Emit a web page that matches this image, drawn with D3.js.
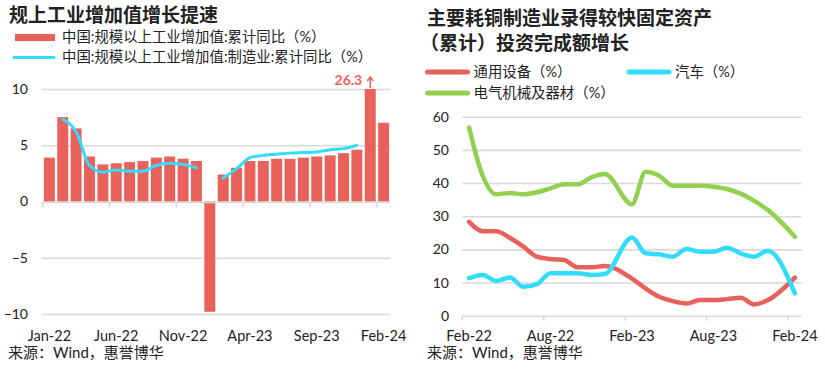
<!DOCTYPE html>
<html>
<head>
<meta charset="utf-8">
<script src="https://cdn.jsdelivr.net/npm/d3@7/dist/d3.min.js"></script>
<style>
  body { margin: 0; background: #fff; }
  svg text { font-family: Lato, "Noto Sans CJK SC", sans-serif; fill: #222; }
</style>
</head>
<body>
<div id="chart"></div>
<script>
// ---- left panel: industrial value added (cumulative YoY, %) ----
const leftMonths = ['Jan-22','Feb-22','Mar-22','Apr-22','May-22','Jun-22','Jul-22','Aug-22','Sep-22','Oct-22','Nov-22','Dec-22',
                    'Jan-23','Feb-23','Mar-23','Apr-23','May-23','Jun-23','Jul-23','Aug-23','Sep-23','Oct-23','Nov-23','Dec-23',
                    'Jan-24','Feb-24'];
const ipTotal = [3.9, 7.5, 6.5, 4.0, 3.3, 3.4, 3.5, 3.6, 3.9, 4.0, 3.8, 3.6,
                 -9.8, 2.4, 3.0, 3.6, 3.6, 3.8, 3.8, 3.9, 4.0, 4.1, 4.3, 4.6,
                 26.3, 7.0];
const ipMfg = [null, 7.3, 6.2, 3.2, 2.6, 2.8, 2.7, 2.7, 3.2, 3.4, 3.3, 3.0,
               null, 2.1, 2.9, 3.9, 4.1, 4.2, 4.3, 4.35, 4.4, 4.6, 4.7, 5.0,
               null, null];
const leftTickLabels = ['Jan-22','Jun-22','Nov-22','Apr-23','Sep-23','Feb-24'];
const leftYTicks = [-10, -5, 0, 5, 10];
const leftLegend = ['中国:规模以上工业增加值:累计同比（%）', '中国:规模以上工业增加值:制造业:累计同比（%）'];

// ---- right panel: fixed asset investment (cumulative YoY, %) ----
const rightMonths = ['Feb-22','Mar-22','Apr-22','May-22','Jun-22','Jul-22','Aug-22','Sep-22','Oct-22','Nov-22','Dec-22',
                     'Jan-23','Feb-23','Mar-23','Apr-23','May-23','Jun-23','Jul-23','Aug-23','Sep-23','Oct-23','Nov-23','Dec-23',
                     'Jan-24','Feb-24'];
const generalEquip = [28.3, 25.5, 25.5, 23.5, 20.8, 17.8, 17.1, 16.8, 14.6, 14.6, 15.0,
                      null, 11.2, 8.2, 5.7, 4.4, 3.7, 4.7, 4.7, 5.0, 5.4, 3.4, 4.7,
                      null, 11.5];
const autos = [11.3, 12.3, 10.5, 11.5, 8.7, 9.5, 12.8, 12.8, 12.8, 12.3, 12.6,
               null, 23.6, 18.8, 18.5, 17.8, 20.1, 19.3, 19.3, 20.5, 18.8, 17.8, 19.6,
               null, 6.7];
const electrical = [56.7, 42.2, 36.6, 37.0, 36.6, 37.2, 38.4, 39.6, 39.6, 41.7, 42.7,
                    null, 33.6, 43.4, 42.2, 39.2, 39.2, 39.2, 38.9, 38.2, 36.8, 34.6, 31.9,
                    null, 23.8];
const rightTickLabels = ['Feb-22','Aug-22','Feb-23','Aug-23','Feb-24'];
const rightYTicks = [0, 10, 20, 30, 40, 50, 60];
const rightSeries = [
  { name: '通用设备（%）', values: generalEquip, color: '#E9615B' },
  { name: '汽车（%）', values: autos, color: '#33DBFF' },
  { name: '电气机械及器材（%）', values: electrical, color: '#92D050' }
];

const RED = '#E9615B', CYAN = '#33DBFF', GRID = '#D9D9D9';

const svg = d3.select('#chart').append('svg')
  .attr('width', 825).attr('height', 375);

// ================= LEFT PANEL =================
(function drawLeft() {
  const x = d3.scaleBand().domain(leftMonths).range([42.7, 390.3])
    .paddingInner(0.18).paddingOuter(0.09);
  const y = d3.scaleLinear().domain([-10, 10]).range([314, 89]);
  const slotStart = d => x(d) - x.step() * x.paddingInner() / 2;

  svg.append('text').attr('x', 9).attr('y', 22)
    .attr('font-size', 19).attr('font-weight', 700)
    .text('规上工业增加值增长提速');

  // legend
  svg.append('rect').attr('x', 15).attr('y', 34).attr('width', 40).attr('height', 7).attr('fill', RED);
  svg.append('line').attr('x1', 14).attr('x2', 54).attr('y1', 57.5).attr('y2', 57.5)
    .attr('stroke', CYAN).attr('stroke-width', 3).attr('stroke-linecap', 'round');
  leftLegend.forEach((t, i) => {
    svg.append('text').attr('x', 62).attr('y', 38 + i * 20)
      .attr('dominant-baseline', 'middle').attr('font-size', 14.4).text(t);
  });

  // gridlines
  const grid = svg.append('g')
    .attr('transform', 'translate(41.7,0)')
    .call(d3.axisLeft(y).tickValues(leftYTicks.filter(v => v !== 0)).tickSize(-348.6).tickFormat(''));
  grid.select('.domain').remove();
  grid.selectAll('line').attr('stroke', GRID).attr('stroke-width', 1.6);

  // y labels
  const yAx = svg.append('g').attr('transform', 'translate(28,0)')
    .call(d3.axisLeft(y).tickValues(leftYTicks).tickSize(0).tickPadding(0));
  yAx.select('.domain').remove();
  yAx.selectAll('text').attr('font-size', 14).style('font-family', 'Lato, sans-serif');

  // bars (clip the outlier at the top of the axis)
  svg.append('g').selectAll('rect')
    .data(leftMonths.map((m, i) => ({ m, v: ipTotal[i] })))
    .join('rect')
    .attr('x', d => x(d.m))
    .attr('width', x.bandwidth())
    .attr('y', d => y(Math.min(Math.max(d.v, 0), 10)))
    .attr('height', d => Math.abs(y(Math.min(d.v, 10)) - y(0)))
    .attr('fill', RED);

  // zero axis line with ticks at slot starts
  const axisY = y(0) + 1;
  svg.append('line').attr('x1', 41.7).attr('x2', 390.3).attr('y1', axisY).attr('y2', axisY)
    .attr('stroke', GRID).attr('stroke-width', 1.6);
  svg.append('g').selectAll('line').data(leftTickLabels).join('line')
    .attr('x1', d => slotStart(d)).attr('x2', d => slotStart(d))
    .attr('y1', axisY).attr('y2', axisY + 5)
    .attr('stroke', GRID).attr('stroke-width', 1.6);

  // x labels
  svg.append('g').selectAll('text').data(leftTickLabels).join('text')
    .attr('x', d => x(d) + x.bandwidth() / 2).attr('y', 340.5)
    .attr('text-anchor', 'middle').attr('font-size', 14.5).text(d => d);

  // manufacturing line
  const line = d3.line()
    .defined(d => d.v != null)
    .x(d => x(d.m) + x.bandwidth() / 2)
    .y(d => y(d.v))
    .curve(d3.curveMonotoneX);
  svg.append('path')
    .datum(leftMonths.map((m, i) => ({ m, v: ipMfg[i] })))
    .attr('d', line).attr('fill', 'none')
    .attr('stroke', CYAN).attr('stroke-width', 3)
    .attr('stroke-linejoin', 'round').attr('stroke-linecap', 'round');

  // outlier annotation
  const outIdx = ipTotal.findIndex(v => v > 10);
  const ox = x(leftMonths[outIdx]) + x.bandwidth() / 2;
  svg.append('line').attr('x1', ox).attr('x2', ox).attr('y1', y(10) - 1).attr('y2', y(10) - 11)
    .attr('stroke', RED).attr('stroke-width', 1.5);
  svg.append('path')
    .attr('d', `M${ox - 3},${y(10) - 8} L${ox},${y(10) - 12} L${ox + 3},${y(10) - 8}`)
    .attr('fill', 'none').attr('stroke', RED).attr('stroke-width', 1.5);
  svg.append('text').attr('x', ox - 8).attr('y', 85)
    .attr('text-anchor', 'end').attr('font-size', 14).attr('font-weight', 700)
    .style('fill', RED).text(ipTotal[outIdx]);

  svg.append('text').attr('x', 8).attr('y', 358).attr('font-size', 15).text('来源：Wind，惠誉博华');
})();

// ================= RIGHT PANEL =================
(function drawRight() {
  const x = d3.scaleBand().domain(rightMonths).range([462.3, 801.7]);
  const y = d3.scaleLinear().domain([0, 60]).range([315.7, 116.7]);
  const cx = m => x(m) + x.bandwidth() / 2;

  svg.append('text').attr('x', 427).attr('y', 25)
    .attr('font-size', 19).attr('font-weight', 700).text('主要耗铜制造业录得较快固定资产');
  svg.append('text').attr('x', 420).attr('y', 50)
    .attr('font-size', 19).attr('font-weight', 700).text('（累计）投资完成额增长');

  // legend
  const legendPos = [[427.5, 72], [629, 72], [427.5, 93]];
  rightSeries.forEach((s, i) => {
    const [lx, ly] = legendPos[i];
    svg.append('line').attr('x1', lx).attr('x2', lx + 40).attr('y1', ly).attr('y2', ly)
      .attr('stroke', s.color).attr('stroke-width', 5).attr('stroke-linecap', 'round');
    svg.append('text').attr('x', lx + 46).attr('y', ly + 1)
      .attr('dominant-baseline', 'middle').attr('font-size', 14.4).text(s.name);
  });

  // gridlines
  const grid = svg.append('g').attr('transform', 'translate(462.3,0)')
    .call(d3.axisLeft(y).tickValues(rightYTicks).tickSize(-339.4).tickFormat(''));
  grid.select('.domain').remove();
  grid.selectAll('line').attr('stroke', GRID).attr('stroke-width', 1.6);

  const yAx = svg.append('g').attr('transform', 'translate(449,0)')
    .call(d3.axisLeft(y).tickValues(rightYTicks).tickSize(0).tickPadding(0));
  yAx.select('.domain').remove();
  yAx.selectAll('text').attr('font-size', 14).style('font-family', 'Lato, sans-serif');

  // x ticks at slot starts, labels centred
  svg.append('g').selectAll('line').data(rightTickLabels).join('line')
    .attr('x1', d => x(d)).attr('x2', d => x(d))
    .attr('y1', y(0)).attr('y2', y(0) + 5)
    .attr('stroke', GRID).attr('stroke-width', 1.6);
  svg.append('g').selectAll('text').data(rightTickLabels).join('text')
    .attr('x', d => cx(d)).attr('y', 340.5)
    .attr('text-anchor', 'middle').attr('font-size', 14.5).text(d => d);

  const line = d3.line().x(d => cx(d.m)).y(d => y(d.v)).curve(d3.curveMonotoneX);
  rightSeries.forEach(s => {
    const pts = rightMonths.map((m, i) => ({ m, v: s.values[i] })).filter(d => d.v != null);
    svg.append('path').datum(pts).attr('d', line).attr('fill', 'none')
      .attr('stroke', s.color).attr('stroke-width', 4.5)
      .attr('stroke-linejoin', 'round').attr('stroke-linecap', 'round');
  });

  svg.append('text').attr('x', 427).attr('y', 358).attr('font-size', 15).text('来源：Wind，惠誉博华');
})();
</script>
</body>
</html>
